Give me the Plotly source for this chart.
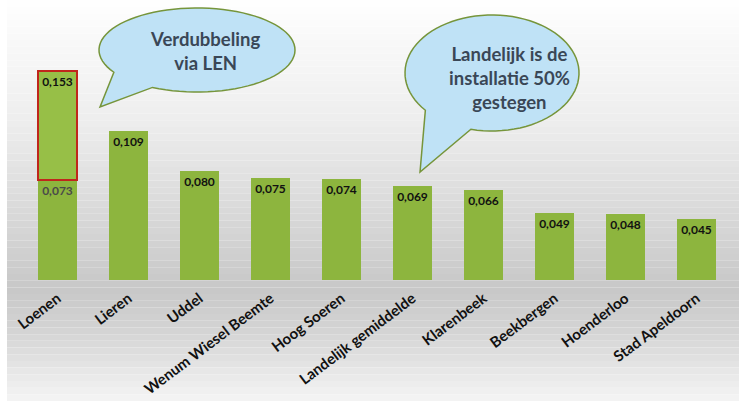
import numpy as np
import plotly.graph_objects as go

# data
places = ["Loenen", "Lieren", "Uddel", "Wenum Wiesel Beemte", "Hoog Soeren",
          "Landelijk gemiddelde", "Klarenbeek", "Beekbergen", "Hoenderloo",
          "Stad Apeldoorn"]
values = [0.073, 0.109, 0.080, 0.075, 0.074, 0.069, 0.066, 0.049, 0.048, 0.045]
loenen_new = 0.153  # after LEN

W, H = 739, 401
M = dict(l=22, r=7, t=0, b=121)
PW, PH = W - M["l"] - M["r"], H - M["t"] - M["b"]


def px2paper(x, y):
    return (x - M["l"]) / PW, (H - M["b"] - y) / PH


def fmt(v):
    return f"{v:.3f}".replace(".", ",")


def bubble_path(cx, cy, rx, ry, a_start, a_end, tip):
    # ellipse outline with a gap between a_start and a_end (deg), tail to tip
    a0, a1 = np.radians(a_end), np.radians(a_start) + 2 * np.pi
    ts = np.linspace(a0, a1, 80)
    pts = [(cx + rx * np.cos(t), cy + ry * np.sin(t)) for t in ts]
    pts.append(tip)
    d = []
    for i, (x, y) in enumerate(pts):
        px, py = px2paper(x, y)
        d.append(("M" if i == 0 else "L") + f"{px:.4f},{py:.4f}")
    return " ".join(d) + " Z"


fig = go.Figure()

green = "#8db53e"
base_text_col = ["#4a4a4a"] + ["#111111"] * (len(values) - 1)
fig.add_trace(go.Bar(
    x=places, y=values,
    text=[fmt(v) for v in values],
    textposition="inside", insidetextanchor="end", textangle=0,
    textfont=dict(family="Lato", size=12, color=base_text_col, weight="bold"),
    marker=dict(color=green, line=dict(width=0)),
    hoverinfo="skip", showlegend=False,
))
extra = [loenen_new - values[0]] + [None] * (len(values) - 1)
fig.add_trace(go.Bar(
    x=places, y=extra,
    text=[fmt(loenen_new)] + [""] * (len(values) - 1),
    textposition="inside", insidetextanchor="end", textangle=0,
    textfont=dict(family="Lato", size=12, color="#111111", weight="bold"),
    marker=dict(color="#97bf47", line=dict(color="#c0261c", width=2)),
    hoverinfo="skip", showlegend=False,
))

# background gradient (stripes)
stops = [(0, (255, 255, 255)), (120, (238, 238, 238)), (290, (200, 200, 200)),
         (330, (212, 212, 212)), (401, (245, 245, 245))]
shapes = []
n = 60
x_left, _ = px2paper(7, 0)
for i in range(n):
    y0, y1 = H * i / n, H * (i + 1) / n
    ym = (y0 + y1) / 2
    for (sa, ca), (sb, cb) in zip(stops, stops[1:]):
        if sa <= ym <= sb:
            f = (ym - sa) / (sb - sa)
            c = [int(ca[k] + (cb[k] - ca[k]) * f) for k in range(3)]
            break
    _, p0 = px2paper(0, y1)
    _, p1 = px2paper(0, y0)
    shapes.append(dict(type="rect", xref="paper", yref="paper",
                       x0=x_left, x1=1.1, y0=p0, y1=p1, layer="below",
                       fillcolor=f"rgb({c[0]},{c[1]},{c[2]})", line_width=0))

bub_style = dict(type="path", xref="paper", yref="paper",
                 fillcolor="#bfe2f6", line=dict(color="#76953b", width=1.5))
shapes.append(dict(path=bubble_path(197, 50, 98, 42, 117, 148, (100, 107)),
                   **bub_style))
shapes.append(dict(path=bubble_path(492, 73, 87, 58, 104, 140, (420, 172)),
                   **bub_style))

annotations = []
for x, y, txt in [(205, 51, "Verdubbeling<br>via LEN"),
                  (509, 78, "Landelijk is de<br>installatie 50%<br>gestegen")]:
    ax, ay = px2paper(x, y)
    annotations.append(dict(x=ax, y=ay, xref="paper", yref="paper", text=txt,
                            showarrow=False, align="center",
                            xanchor="center", yanchor="middle",
                            font=dict(family="Lato", size=18.5,
                                      color="#3a4756", weight="bold")))

fig.update_layout(
    width=W, height=H, margin=M,
    template="none",
    paper_bgcolor="white", plot_bgcolor="rgba(0,0,0,0)",
    barmode="stack", bargap=0.45,
    shapes=shapes, annotations=annotations,
    xaxis=dict(tickangle=-37, showgrid=False, showline=False, zeroline=False,
               ticks="", automargin=False, ticklabelstandoff=6,
               tickfont=dict(family="Lato", size=15, color="#111111",
                             weight="bold")),
    yaxis=dict(range=[0, PH / 1366], visible=False, showgrid=False,
               automargin=False),
    uniformtext=dict(minsize=11, mode="show"),
)

fig.write_html("out.html", config={"displayModeBar": False},
               post_script="document.body.style.margin='0';")
